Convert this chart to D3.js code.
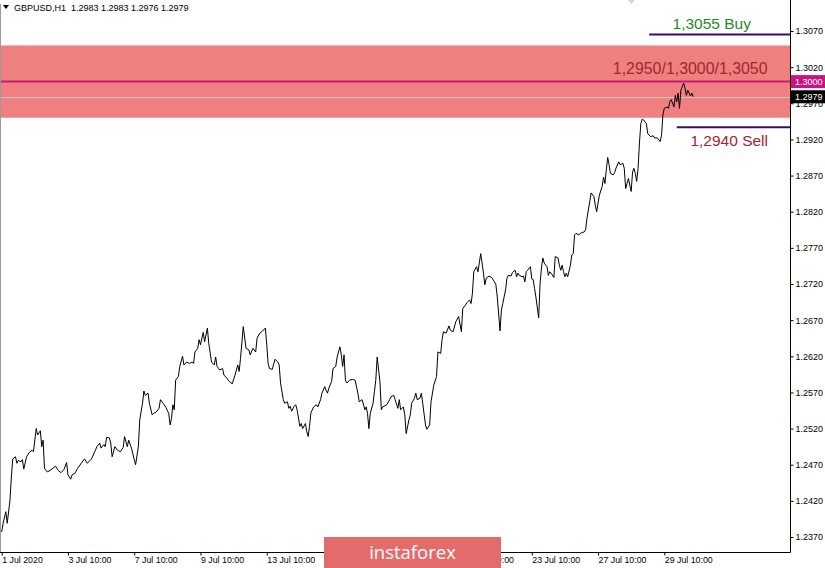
<!DOCTYPE html>
<html><head><meta charset="utf-8">
<script src="https://cdn.jsdelivr.net/npm/d3@7"></script>
<style>
html,body{margin:0;padding:0;background:#fff;}
svg{display:block;font-family:"Liberation Sans",Arial,sans-serif;}
</style></head>
<body>
<svg id="c" width="825" height="568"></svg>
<script>
// ---- data ----
const symbol = "GBPUSD,H1";
const ohlc = [1.2983, 1.2983, 1.2976, 1.2979];
const bars = [0,1,3,4,6,7,8,10,11,12,14,15,16,18,20,22,23,25,26,28,29,30,31,33,35,39,41,43,45,47,48,50,51,53,55,58,60,62,65,66,69,71,72,74,75,76,78,79,80,82,84,86,88,89,91,92,94,95,96,97,99,100,102,103,104,106,107,109,110,112,114,115,117,119,121,122,123,124,125,126,128,129,131,132,134,136,138,139,140,142,143,144,146,147,149,150,152,154,155,156,158,160,161,163,165,167,169,171,172,173,175,177,179,180,182,184,185,187,189,191,192,193,194,196,198,200,201,202,204,205,207,208,209,210,212,213,214,216,217,218,220,221,222,223,224,226,228,229,231,232,234,235,236,237,239,240,242,243,245,246,247,248,249,250,252,254,256,258,259,261,262,263,264,265,266,267,269,270,271,272,274,275,276,279,281,282,284,285,287,288,289,291,292,293,295,296,297,299,300,301,303,304,305,307,308,310,311,313,315,316,318,319,320,322,324,325,327,329,331,333,334,336,337,339,340,341,342,344,345,347,348,349,350,351,353,355,357,358,359,361,362,363,365,366,367,369,370,372,373,374,375,377,378,379,380,381,383,384,385,386,387,389,390,391,392,393,395,396,397,398,400,401,403,404,405,406,407,408,409,410,412,413,414,415,416,418,420,422,423,424,426,427,429,430,431,432,433,435,436,437,438,439,440,441,443,444,445,447,448,450,451,452,453,454,456,457,458,459,460,461,462,463,464,465,467,468,470,472,473,475,477,478,479,480,482,483,484,485,487,488,489,490,491,492,493,494,495,496,497,499,500,501];
const closes = [1.2377,1.2389,1.2405,1.2389,1.2421,1.2453,1.2478,1.2481,1.2472,1.2476,1.2474,1.2477,1.2464,1.2481,1.2487,1.2490,1.2488,1.2520,1.2511,1.2517,1.2495,1.2504,1.2465,1.2460,1.2462,1.2468,1.2462,1.2459,1.2463,1.2473,1.2456,1.2450,1.2456,1.2458,1.2465,1.2473,1.2478,1.2472,1.2478,1.2482,1.2495,1.2500,1.2493,1.2498,1.2495,1.2508,1.2507,1.2500,1.2481,1.2495,1.2490,1.2488,1.2494,1.2509,1.2495,1.2504,1.2493,1.2485,1.2477,1.2470,1.2495,1.2532,1.2555,1.2572,1.2566,1.2569,1.2555,1.2539,1.2541,1.2543,1.2548,1.2560,1.2555,1.2549,1.2541,1.2525,1.2534,1.2553,1.2546,1.2587,1.2592,1.2606,1.2620,1.2608,1.2612,1.2610,1.2612,1.2610,1.2626,1.2631,1.2643,1.2636,1.2653,1.2640,1.2659,1.2638,1.2612,1.2608,1.2619,1.2606,1.2601,1.2603,1.2594,1.2590,1.2585,1.2582,1.2594,1.2608,1.2599,1.2617,1.2661,1.2631,1.2629,1.2622,1.2631,1.2626,1.2645,1.2652,1.2655,1.2659,1.2636,1.2610,1.2603,1.2602,1.2616,1.2612,1.2608,1.2583,1.2560,1.2555,1.2557,1.2548,1.2551,1.2544,1.2551,1.2553,1.2546,1.2523,1.2527,1.2520,1.2527,1.2516,1.2509,1.2523,1.2542,1.2550,1.2553,1.2550,1.2560,1.2569,1.2578,1.2573,1.2569,1.2576,1.2585,1.2603,1.2606,1.2619,1.2633,1.2622,1.2606,1.2622,1.2587,1.2583,1.2587,1.2588,1.2587,1.2569,1.2557,1.2560,1.2554,1.2546,1.2550,1.2541,1.2520,1.2541,1.2555,1.2571,1.2587,1.2619,1.2585,1.2546,1.2550,1.2553,1.2560,1.2564,1.2566,1.2560,1.2548,1.2560,1.2546,1.2550,1.2539,1.2513,1.2532,1.2539,1.2555,1.2562,1.2569,1.2560,1.2562,1.2569,1.2555,1.2525,1.2519,1.2525,1.2557,1.2580,1.2592,1.2626,1.2624,1.2643,1.2654,1.2652,1.2662,1.2656,1.2654,1.2668,1.2675,1.2654,1.2686,1.2691,1.2694,1.2698,1.2693,1.2707,1.2737,1.2744,1.2737,1.2762,1.2749,1.2735,1.2719,1.2728,1.2731,1.2729,1.2723,1.2719,1.2702,1.2655,1.2684,1.2693,1.2712,1.2728,1.2732,1.2731,1.2736,1.2739,1.2730,1.2735,1.2732,1.2730,1.2731,1.2723,1.2737,1.2739,1.2744,1.2727,1.2726,1.2714,1.2702,1.2673,1.2721,1.2742,1.2756,1.2749,1.2744,1.2732,1.2737,1.2735,1.2729,1.2758,1.2756,1.2746,1.2739,1.2746,1.2737,1.2730,1.2735,1.2730,1.2746,1.2760,1.2762,1.2788,1.2790,1.2788,1.2791,1.2792,1.2795,1.2811,1.2834,1.2846,1.2841,1.2829,1.2820,1.2832,1.2843,1.2855,1.2868,1.2859,1.2878,1.2895,1.2885,1.2873,1.2871,1.2874,1.2880,1.2889,1.2885,1.2887,1.2880,1.2852,1.2859,1.2866,1.2848,1.2875,1.2880,1.2873,1.2862,1.2880,1.2915,1.2942,1.2948,1.2947,1.2942,1.2928,1.2924,1.2925,1.2922,1.2922,1.2917,1.2926,1.2954,1.2963,1.2965,1.2963,1.2972,1.2975,1.2965,1.2981,1.2972,1.2984,1.2963,1.2988,1.2993,1.2998,1.2991,1.2981,1.2988,1.2980,1.2984,1.2979];
const timeTickBars = [0,48,96,144,192,240,288,336,384,432,480];
const timeTickLabels = ["1 Jul 2020","3 Jul 10:00","7 Jul 10:00","9 Jul 10:00","13 Jul 10:00","15 Jul 10:00","17 Jul 10:00","21 Jul 10:00","23 Jul 10:00","27 Jul 10:00","29 Jul 10:00"];
const priceTicks = [1.2370,1.2420,1.2470,1.2520,1.2570,1.2620,1.2670,1.2720,1.2770,1.2820,1.2870,1.2920,1.2970,1.3020,1.3070];
const zone = [1.2950, 1.3050];
const pivot = 1.3000;
const lastPrice = 1.2979;
const buyLine = 1.3065, buyStartBar = 469;
const sellLine = 1.2937, sellStartBar = 489;
const zoneText = "1,2950/1,3000/1,3050";
const buyText = "1,3055 Buy";
const sellText = "1,2940 Sell";
const watermark = "instaforex";

// ---- scales ----
const plotRight = 790, plotBottom = 552;
const x = d3.scaleLinear().domain([0, 480]).range([1.7, 664.3]);
const y = d3.scaleLinear().domain([1.2370, 1.3070]).range([537, 31]);

const svg = d3.select("#c");
svg.append("rect").attr("width",825).attr("height",568).attr("fill","#fff");

// zone
svg.append("rect").attr("x",0).attr("width",plotRight)
  .attr("y",y(zone[1])).attr("height",y(zone[0])-y(zone[1]))
  .attr("fill","#f08080");
// last price line
svg.append("line").attr("x1",0).attr("x2",plotRight)
  .attr("y1",Math.round(y(lastPrice))+0.5).attr("y2",Math.round(y(lastPrice))+0.5)
  .attr("stroke","#cfc4c4").attr("stroke-width",1);
// pivot line
svg.append("line").attr("x1",0).attr("x2",plotRight)
  .attr("y1",y(pivot)).attr("y2",y(pivot))
  .attr("stroke","#c8157f").attr("stroke-width",2);
// buy / sell lines
svg.append("line").attr("x1",x(buyStartBar)).attr("x2",plotRight)
  .attr("y1",y(buyLine)).attr("y2",y(buyLine)).attr("stroke","#3b0a70").attr("stroke-width",2);
svg.append("line").attr("x1",x(sellStartBar)).attr("x2",plotRight)
  .attr("y1",y(sellLine)).attr("y2",y(sellLine)).attr("stroke","#3b0a70").attr("stroke-width",2);

// price line
const pts = bars.map((b,i)=>[b, closes[i]]);
svg.append("path").datum(pts)
  .attr("d", d3.line().x(d=>x(d[0])).y(d=>y(d[1])))
  .attr("fill","none").attr("stroke","#000").attr("stroke-width",1);

// annotation texts
svg.append("text").attr("x",751).attr("y",28.5).attr("text-anchor","end")
  .attr("font-size",15.5).attr("fill","#1f8a1f").text(buyText);
svg.append("text").attr("x",767.5).attr("y",74).attr("text-anchor","end")
  .attr("font-size",15.9).attr("fill","#a3262b").text(zoneText);
svg.append("text").attr("x",768).attr("y",146).attr("text-anchor","end")
  .attr("font-size",15.5).attr("fill","#a3262b").text(sellText);

// frame lines
svg.append("line").attr("x1",0.5).attr("x2",0.5).attr("y1",4).attr("y2",plotBottom)
  .attr("stroke","#9a9a9a");
svg.append("line").attr("x1",plotRight+0.5).attr("x2",plotRight+0.5).attr("y1",0).attr("y2",plotBottom+0.5)
  .attr("stroke","#000");
svg.append("line").attr("x1",0).attr("x2",plotRight+0.5).attr("y1",plotBottom+0.5).attr("y2",plotBottom+0.5)
  .attr("stroke","#000");

// y axis
const yAxis = d3.axisRight(y).tickValues(priceTicks).tickSize(3).tickPadding(2)
  .tickFormat(d3.format(".4f"));
const gy = svg.append("g").attr("transform",`translate(${plotRight+0.5},0)`).call(yAxis);
gy.select(".domain").remove();
gy.selectAll("text").attr("font-size",9).attr("font-family","Liberation Sans, Arial, sans-serif").attr("fill","#000");
gy.selectAll("line").attr("stroke","#000");

// x axis
const xAxis = d3.axisBottom(x).tickValues(timeTickBars).tickSize(3)
  .tickFormat((d,i)=>timeTickLabels[i]);
const gx = svg.append("g").attr("transform",`translate(0,${plotBottom+0.5})`).call(xAxis);
gx.select(".domain").remove();
gx.selectAll("text").attr("text-anchor","start").attr("x",0).attr("y",4.5)
  .attr("font-size",8.8).attr("font-family","Liberation Sans, Arial, sans-serif").attr("fill","#000");
gx.selectAll("line").attr("stroke","#000");

// price boxes
function priceBox(v, fill, dy){
  const cy = y(v) + dy;
  svg.append("rect").attr("x",plotRight+1).attr("y",cy-6.5).attr("width",34).attr("height",13).attr("fill",fill);
  svg.append("text").attr("x",plotRight+5).attr("y",cy).attr("dy","0.35em")
    .attr("font-size",9).attr("fill","#fff").text(d3.format(".4f")(v));
}
priceBox(pivot, "#c8157f", 0);
priceBox(lastPrice, "#000", 0);

// header
svg.append("path").attr("d","M3,5 L9,5 L6,9 Z").attr("fill","#000");
svg.append("text").attr("x",14).attr("y",11).attr("font-size",9).attr("fill","#000")
  .attr("xml:space","preserve").style("white-space","pre")
  .text(symbol + "  " + ohlc.map(d3.format(".4f")).join(" "));
// small marker at top
svg.append("path").attr("d","M628,0 L635,0 L631.5,4 Z").attr("fill","#d4d4d4");

// watermark
svg.append("rect").attr("x",324).attr("y",537).attr("width",177).attr("height",31).attr("fill","#e46b6b");
svg.append("text").attr("x",412.5).attr("y",559).attr("text-anchor","middle")
  .attr("font-family","'Open Sans', sans-serif").attr("font-size",18.5).attr("fill","#fff").text(watermark);
</script>
</body></html>
